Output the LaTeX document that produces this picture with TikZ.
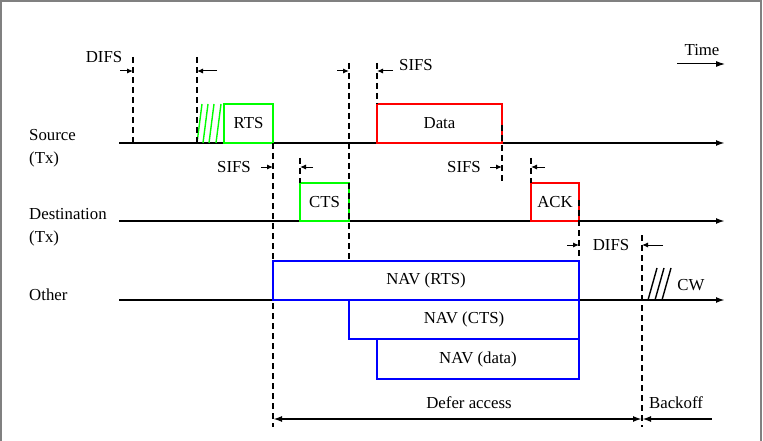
\documentclass[tikz,border=0pt]{standalone}
\usepackage{fontspec}
\setmainfont{Liberation Serif}
\usetikzlibrary{arrows.meta, positioning}

\begin{document}
\begin{tikzpicture}[x=1pt, y=-1pt, font=\fontsize{16.8}{23}\selectfont,
  frame/.style={rectangle, draw, line width=1.6pt, minimum height=39pt, inner sep=0pt, outer sep=0pt, anchor=south west},
  nav/.style={frame, draw=blue},
  tline/.style={line width=2pt, -{Latex[length=9pt, width=6pt]}},
  marker/.style={line width=1.3pt, dash pattern=on 6pt off 4pt},
  dim/.style={line width=1pt, -{Latex[length=6pt, width=5pt]}},
  hatch/.style={line width=1.4pt},
  lbl/.style={inner sep=1pt}]

\useasboundingbox (0,0) rectangle (763,441);
\draw[gray, line width=1.5pt] (1,441) -- (1,1) -- (761,1) -- (761,441);

% stations
\node[lbl, align=left, anchor=west] (src) at (28,148) {Source\\(Tx)};
\node[lbl, align=left, anchor=west] (dst) at (28,227) {Destination\\(Tx)};
\node[lbl, anchor=west] (oth) at (28,295) {Other};

\coordinate (srcL) at (119,143);  \coordinate (srcR) at (725,143);
\coordinate (dstL) at (119,221);  \coordinate (dstR) at (725,221);
\coordinate (othL) at (119,300);  \coordinate (othR) at (725,300);
\draw[tline] (srcL) -- (srcR);
\draw[tline] (dstL) -- (dstR);
\draw[tline] (othL) -- (othR);

% frames
\node[frame, draw=green, minimum width=49pt] (rts) at (224,143) {RTS};
\node[frame, draw=green, minimum width=49pt, minimum height=38pt] (cts) at (300,221) {CTS};
\node[frame, draw=red, minimum width=125pt] (data) at (377,143) {Data};
\node[frame, draw=red, minimum width=48pt, minimum height=38pt] (ack) at (531,221) {ACK};

\foreach \x in {197,203,209,216}
  \draw[hatch, green] (\x,143) -- (\x+5,104);
\foreach \x in {648,655,662}
  \draw[hatch] (\x,300) -- (\x+9,268);

% time marks
\draw[marker] (133,57) -- (133,143);
\draw[marker] (197,57) -- (197,143);
\draw[marker] (rts.south east) -- (273,427);
\draw[marker] (349,63) -- (349,261);
\draw[marker] (377,63) -- (data.north west);
\draw[marker] (502,125) -- (502,183);
\draw[marker] (300,158) -- (cts.north west);
\draw[marker] (531,158) -- (ack.north west);
\draw[marker] (579,200) -- (579,261);
\draw[marker] (642,235) -- (642,427);

% NAV
\node[nav, minimum width=306pt] (navrts) at (273,300) {NAV (RTS)};
\node[nav, minimum width=230pt] (navcts) at (349,339) {NAV (CTS)};
\node[nav, minimum width=202pt, minimum height=40pt] (navdata) at (377,379) {NAV (data)};

% intervals
\node[lbl] (difsA) at (104,57) {DIFS};
\node[lbl] (sifsA) at (416,65) {SIFS};
\node[lbl] (sifsB) at (234,167) {SIFS};
\node[lbl] (sifsC) at (464,167) {SIFS};
\node[lbl] (difsB) at (611,245) {DIFS};
\node[lbl] (cw) at (691,285) {CW};
\node[lbl] (defer) at (469,403) {Defer access};
\node[lbl] (backoff) at (676,403) {Backoff};
\node[lbl] (time) at (702,50) {Time};

\draw[dim] (120,71) -- (133,71);
\draw[dim] (217,71) -- (197,71);
\draw[dim] (337,71) -- (349,71);
\draw[dim] (393,71) -- (377,71);
\draw[dim] (261,167) -- (273,167);
\draw[dim] (313,167) -- (300,167);
\draw[dim] (490,167) -- (502,167);
\draw[dim] (545,167) -- (531,167);
\draw[dim] (567,245) -- (579,245);
\draw[dim] (663,245) -- (642,245);
\draw[line width=2pt, {Latex[length=9pt, width=6pt]}-{Latex[length=9pt, width=6pt]}] (273,419) -- (642,419);
\draw[line width=2pt, {Latex[length=9pt, width=6pt]}-] (642,419) -- (712,419);
\draw[line width=1pt, -{Latex[length=9pt, width=6pt]}] (677,64) -- (725,64);

\end{tikzpicture}
\end{document}
